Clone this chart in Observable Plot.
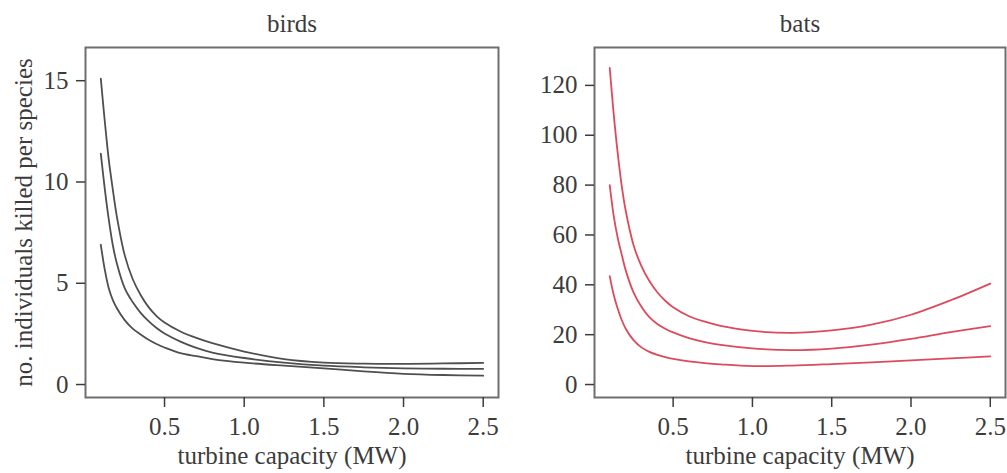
<!DOCTYPE html>
<html><head><meta charset="utf-8">
<script src="https://cdn.jsdelivr.net/npm/d3@7"></script>
<script src="https://cdn.jsdelivr.net/npm/@observablehq/plot@0.6"></script>
<style>
body{margin:0;background:#fff;}
#wrap{position:relative;width:1007px;height:473px;overflow:hidden;background:#fff;}
#birds{position:absolute;left:0;top:0;}
#bats{position:absolute;left:500px;top:0;}
</style></head><body><div id="wrap"><div id="birds"></div><div id="bats"></div></div>
<script>
// turbine capacity (MW)
const capacity = [0.1, 0.125, 0.15, 0.175, 0.2, 0.25, 0.3, 0.35, 0.4, 0.45, 0.5, 0.6, 0.7, 0.8, 1.0, 1.25, 1.5, 1.75, 2.0, 2.25, 2.5];
// birds: individuals killed per species
const birdsUpper  = [15.1, 13.0, 11.1, 9.65, 8.33, 6.39, 5.21, 4.42, 3.82, 3.38, 3.06, 2.62, 2.30, 2.04, 1.63, 1.25, 1.08, 1.03, 1.02, 1.04, 1.07];
const birdsMiddle = [11.4, 9.66, 8.15, 6.9, 6.0, 4.76, 4.07, 3.54, 3.13, 2.79, 2.52, 2.12, 1.81, 1.58, 1.31, 1.08, 0.93, 0.85, 0.80, 0.78, 0.77];
const birdsLower  = [6.9, 5.67, 4.75, 4.18, 3.78, 3.18, 2.76, 2.47, 2.21, 2.0, 1.83, 1.55, 1.40, 1.26, 1.08, 0.93, 0.8, 0.65, 0.53, 0.47, 0.44];
// bats: individuals killed per species
const batsUpper  = [127, 108.6, 93, 80, 70, 56, 47.5, 41.5, 37, 33.6, 31, 27.4, 25.2, 23.5, 21.5, 20.7, 21.7, 24, 28, 33.8, 40.5];
const batsMiddle = [80, 67.7, 59, 52.3, 46, 37, 31.2, 27.0, 24.3, 22.4, 20.9, 18.6, 17.0, 15.9, 14.5, 13.8, 14.4, 16, 18.3, 21, 23.4];
const batsLower  = [43.5, 36, 30.5, 26, 22.5, 17.8, 14.9, 13.1, 11.9, 11.0, 10.3, 9.3, 8.6, 8.1, 7.4, 7.6, 8.2, 8.9, 9.7, 10.5, 11.3];
// ticks
const xTicks = [0.5, 1.0, 1.5, 2.0, 2.5];
const birdsYTicks = [0, 5, 10, 15];
const batsYTicks = [0, 20, 40, 60, 80, 100, 120];
const panelTitles = ["birds", "bats"];
const xLabel = "turbine capacity (MW)";
const yLabel = "no. individuals killed per species";

function toRows(series) {
  const rows = [];
  for (const [name, arr] of Object.entries(series)) {
    capacity.forEach((x, i) => rows.push({x, y: arr[i], s: name}));
  }
  return rows;
}
const birdsData = toRows({upper: birdsUpper, middle: birdsMiddle, lower: birdsLower});
const batsData = toRows({upper: batsUpper, middle: batsMiddle, lower: batsLower});

const baseStyle = {fontFamily: "'Liberation Serif', 'Times New Roman', serif", fontSize: "25px", color: "#3c3c3c", background: "white", overflow: "visible"};

function panel({width, marginLeft, data, yDomain, yTicks, title, stroke, showYLabel}) {
  return Plot.plot({
    width, height: 473,
    marginLeft, marginRight: 2, marginTop: 47, marginBottom: 76,
    style: baseStyle,
    x: {domain: [0.004, 2.596]},
    y: {domain: yDomain},
    marks: [
      Plot.line(data, {x: "x", y: "y", z: "s", stroke, strokeWidth: 1.8, curve: "catmull-rom"}),
      Plot.frame({stroke: "#6e6e6e", strokeWidth: 2}),
      Plot.axisX({ticks: xTicks, tickFormat: d => d.toFixed(1), tickSize: 10, tickPadding: 10, strokeWidth: 1.5,
        label: xLabel, labelAnchor: "center", labelOffset: 66, labelArrow: "none"}),
      Plot.axisY({ticks: yTicks, tickSize: 9, tickPadding: 8, strokeWidth: 1.5,
        label: showYLabel ? yLabel : null, labelAnchor: "center", labelOffset: 71, labelArrow: "none"}),
      Plot.text([title], {frameAnchor: "top", dy: -16, lineAnchor: "bottom"})
    ]
  });
}

document.getElementById("birds").append(panel({
  width: 500, marginLeft: 85, data: birdsData, yDomain: [-0.64, 16.64], yTicks: birdsYTicks,
  title: panelTitles[0], stroke: "#4f4f4f", showYLabel: true
}));
document.getElementById("bats").append(panel({
  width: 507, marginLeft: 94, data: batsData, yDomain: [-5.2, 135.2], yTicks: batsYTicks,
  title: panelTitles[1], stroke: "#dc4b5c", showYLabel: false
}));
</script>
</body></html>
